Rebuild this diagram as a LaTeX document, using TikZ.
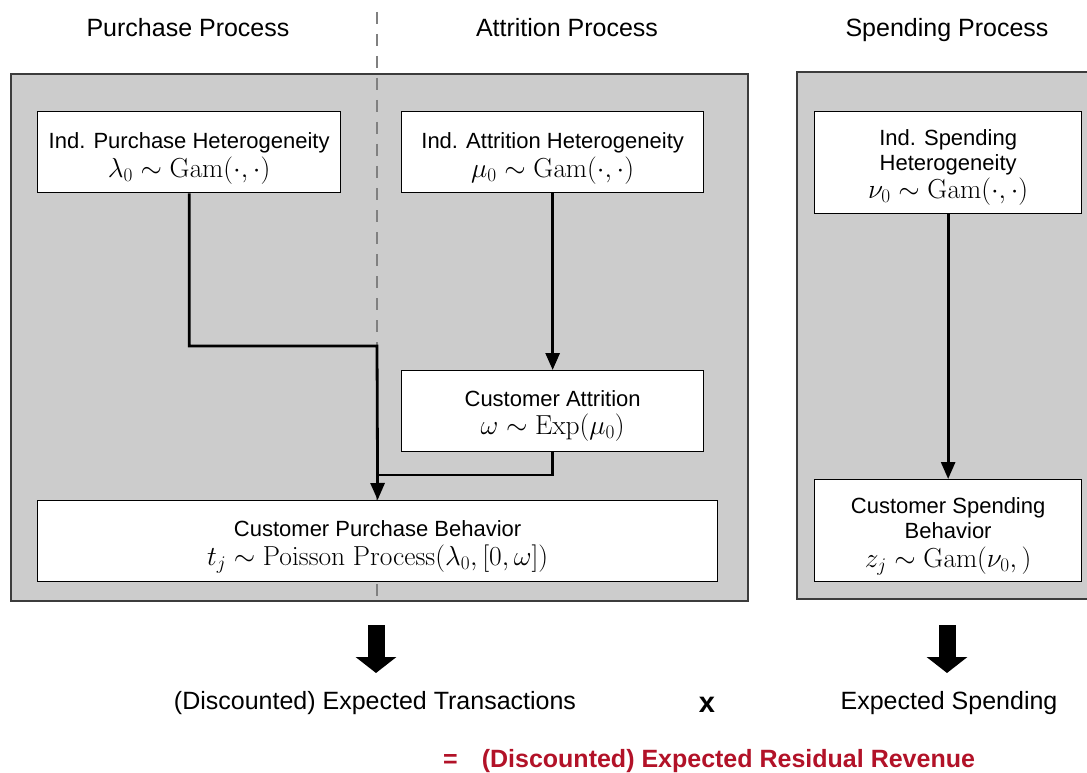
\RequirePackage{fix-cm}
\documentclass[tikz,border=0pt]{standalone}
\usepackage[no-math]{fontspec}
\setmainfont{Liberation Sans}
\usetikzlibrary{arrows.meta}
\definecolor{panelgray}{RGB}{204,204,204}
\definecolor{paneledge}{RGB}{60,60,60}
\definecolor{dividergray}{RGB}{128,128,128}
\definecolor{revred}{RGB}{178,18,40}
\newcommand\boxfont{\fontsize{22}{27}\selectfont}
\newcommand\mfont{\fontsize{27.5}{27}\selectfont}
\newcommand\headfont{\fontsize{25}{30}\selectfont}
\tikzset{
  panel/.style={fill=panelgray, draw=paneledge, line width=1.4pt},
  divider/.style={draw=dividergray, line width=2.6pt, dash pattern=on 12pt off 10pt},
  procbox/.style={draw=black, line width=1.3pt, fill=white, inner sep=0pt,
    anchor=north west},
  boxtext/.style={inner sep=0pt, align=center, font=\boxfont},
  link/.style={draw=black, line width=2.8pt},
  linkarrow/.style={link, -{Triangle[length=17pt,width=14pt]}},
  bigarrow/.style={line width=17pt, -{Triangle[length=16pt,width=40pt]}},
  label/.style={font=\headfont, inner sep=0pt, anchor=base}
}
\begin{document}
\begin{tikzpicture}[x=1pt,y=-1pt]
\useasboundingbox (0,0) rectangle (1087,773);

% panels
\draw[panel] (11,74) rectangle (748,601);
\draw[panel] (797,72) rectangle (1100,599);

% divider between purchase and attrition processes
\draw[divider] (377,12) -- (377,601);

% headers
\node[label] (hp) at (188,37) {Purchase Process};
\node[label] (ha) at (567,37) {Attrition Process};
\node[label] (hs) at (947,37) {Spending Process};

% process boxes
\node[procbox, minimum width=303pt, minimum height=81pt] (ph) at (37,111) {};
\node[procbox, minimum width=302pt, minimum height=81pt] (ah) at (401,111) {};
\node[procbox, minimum width=302pt, minimum height=81pt] (ca) at (401,370) {};
\node[procbox, minimum width=680pt, minimum height=81pt] (pb) at (37,500) {};
\node[procbox, minimum width=267pt, minimum height=102pt] (sh) at (814,111) {};
\node[procbox, minimum width=267pt, minimum height=102pt] (sb) at (814,479) {};

% box contents
\node[boxtext] (ph-t) at ([yshift=-6pt]ph.center)
  {Ind. Purchase Heterogeneity\\[2pt]{\mfont$\lambda_0\sim\mathrm{Gam}(\cdot,\cdot)$}};
\node[boxtext] (ah-t) at ([yshift=-6pt]ah.center)
  {Ind. Attrition Heterogeneity\\[2pt]{\mfont$\mu_0\sim\mathrm{Gam}(\cdot,\cdot)$}};
\node[boxtext] (ca-t) at ([yshift=-5pt]ca.center)
  {Customer Attrition\\[1pt]{\mfont$\omega\sim\mathrm{Exp}(\mu_0)$}};
\node[boxtext] (pb-t) at ([yshift=-6pt]pb.center)
  {Customer Purchase Behavior\\[2pt]{\mfont$t_j\sim\mathrm{Poisson\ Process}(\lambda_0,[0,\omega])$}};
\node[boxtext] (sh-t) at ([yshift=-5pt]sh.center)
  {Ind. Spending\\[-2pt]Heterogeneity\\[1pt]{\mfont$\nu_0\sim\mathrm{Gam}(\cdot,\cdot)$}};
\node[boxtext] (sb-t) at ([yshift=-6pt]sb.center)
  {Customer Spending\\[-2pt]Behavior\\[2pt]{\mfont$z_j\sim\mathrm{Gam}(\nu_0,)$}};

% connectors
\coordinate (bend) at (377,346);
\coordinate (merge) at (377,475);
\draw[link] (ca.south) |- (merge);
\draw[linkarrow] (ph.south) |- (bend) -- (pb.north);
\draw[linkarrow] (ah.south) -- (ca.north);
\draw[linkarrow] (sh.south) -- (sb.north);

% result arrows
\coordinate (ta0) at (376,625);
\coordinate (ta1) at (376,673);
\coordinate (sa0) at (947,625);
\coordinate (sa1) at (947,673);
\draw[bigarrow] (ta0) -- (ta1);
\draw[bigarrow] (sa0) -- (sa1);

% results
\node[label] (et) at (375,709) {(Discounted) Expected Transactions};
\node[label, font=\fontsize{29}{30}\selectfont\bfseries] (times) at (707,712) {x};
\node[label] (es) at (949,709) {Expected Spending};
\node[label, anchor=base west, text=revred, font=\headfont\bfseries] (rev) at (443,767)
  {=\hspace{24pt}(Discounted) Expected Residual Revenue};
\end{tikzpicture}
\end{document}
